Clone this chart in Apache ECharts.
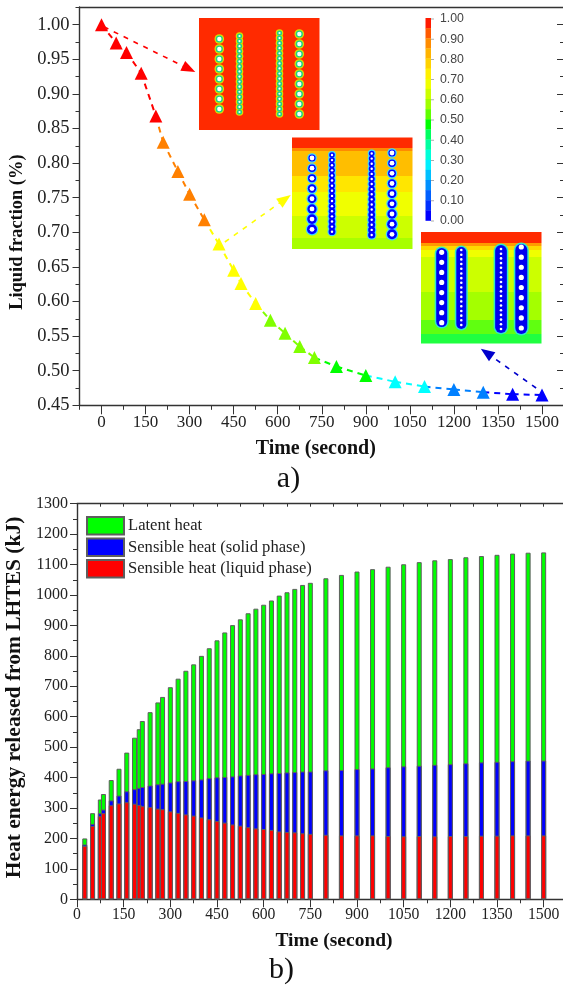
<!DOCTYPE html>
<html><head><meta charset="utf-8">
<style>html,body{margin:0;padding:0;background:#fff;overflow:hidden}#c{width:563px;height:985px}</style>
<script src="https://cdn.jsdelivr.net/npm/echarts@6/dist/echarts.min.js"></script>
</head><body><div id="c"></div>
<script>
// ---- panel a data
const fractionTime = [0,50,85,135,185,210,260,300,350,400,450,475,525,575,625,675,725,800,900,1000,1100,1200,1300,1400,1500];
const fractionValue = [1.0,0.9735,0.96,0.93,0.868,0.83,0.788,0.755,0.718,0.683,0.645,0.626,0.597,0.573,0.554,0.535,0.519,0.506,0.493,0.484,0.477,0.473,0.469,0.466,0.465];
const fractionColor = ['#ff0000','#ff0000','#ff0000','#ff0000','#ff0000','#ff8000','#ff8000','#ff8000','#ff8000','#ffff00','#ffff00','#ffff00','#ffff00','#80ff00','#80ff00','#80ff00','#80ff00','#00ff00','#00ff00','#00ffff','#00ffff','#0080ff','#0080ff','#0000ff','#0000ff'];
const timeMajor = [0,150,300,450,600,750,900,1050,1200,1350,1500];
const timeMinorA = [-75,75,225,375,525,675,825,975,1125,1275,1425,1575];
const fracMajor = [0.45,0.5,0.55,0.6,0.65,0.7,0.75,0.8,0.85,0.9,0.95,1.0];
const fracMinor = [0.475,0.525,0.575,0.625,0.675,0.725,0.775,0.825,0.875,0.925,0.975,1.025];
// ---- panel b data
const barTime = [25,50,75,85,110,135,160,185,200,210,235,260,275,300,325,350,375,400,425,450,475,500,525,550,575,600,625,650,675,700,725,750,800,850,900,950,1000,1050,1100,1150,1200,1250,1300,1350,1400,1450,1500];
const liquidHeat = [175,241,273,283,309,315,319,314,310,306,303,298,296,289,284,279,275,269,263,257,252,246,242,237,233,231,228,223,221,220,217,215,212,210,210,210,208,207,208,207,208,208,209,209,210,210,210];
const solidHeat = [5,7,10,12,16,26,36,48,56,63,71,80,84,95,104,110,116,125,135,144,150,158,165,172,178,181,186,192,196,198,203,205,212,215,218,220,226,230,231,235,236,239,241,243,244,246,246];
const latentHeat = [20,35,45,51,67,88,127,169,193,217,241,269,285,313,337,362,381,406,427,450,475,497,513,531,544,556,568,583,592,602,613,620,631,641,649,655,659,664,669,672,674,677,678,680,682,683,684];
const timeMinorB = [75,225,375,525,675,825,975,1125,1275,1425];
const heatMajor = [0,100,200,300,400,500,600,700,800,900,1000,1100,1200,1300];
const heatMinor = [50,150,250,350,450,550,650,750,850,950,1050,1150,1250];
const seriesNames = ['Latent heat','Sensible heat (solid phase)','Sensible heat (liquid phase)'];
// ---- colour scale of the insets
const scaleLabels = ['1.00','0.90','0.80','0.70','0.60','0.50','0.40','0.30','0.20','0.10','0.00'];
const scaleColors = ['#ff1a00','#ff5a00','#ff8c00','#ffb400','#ffd200','#fff000','#f0ff00','#ccff00','#a0ff00','#60ff00','#00ff00','#00ff60','#00ffa0','#00ffd8','#00f0ff','#00c0ff','#0090ff','#0060ff','#0030ff','#0000ff'];

const SERIF = 'Liberation Serif';
const dark = '#222';

function pairs(a,b){return a.map((v,i)=>[v,b[i]]);}

const lineSeries = [];
for(let i=0;i<fractionTime.length-1;i++){
  lineSeries.push({type:'line',xAxisIndex:0,yAxisIndex:0,symbol:'none',silent:true,z:3,
    data:[[fractionTime[i],fractionValue[i]],[fractionTime[i+1],fractionValue[i+1]]],
    lineStyle:{color:fractionColor[i+1],width:2,type:[6,5]}});
}
const arrows = [
  {from:[8,0.997],to:[298,0.936],c:'#ff0000'},
  {from:[420,0.686],to:[625,0.748],c:'#ffff00'},
  {from:[1480,0.475],to:[1311,0.526],c:'#0000cc'}
];
const arrowSeries = {type:'line',xAxisIndex:0,yAxisIndex:0,symbol:'none',data:[],silent:true,z:2,
  markLine:{silent:true,animation:false,symbol:['none','triangle'],symbolSize:[11,14],label:{show:false},
    data:arrows.map(a=>[{coord:a.from,lineStyle:{color:a.c,width:1.6,type:[5,6]},itemStyle:{color:a.c}},{coord:a.to}])}};
const markerSeries = {type:'scatter',xAxisIndex:0,yAxisIndex:0,symbol:'triangle',symbolSize:[13,13],z:4,
  data:fractionTime.map((t,i)=>({value:[t,fractionValue[i]],itemStyle:{color:fractionColor[i],opacity:1}}))};

// the three layers are drawn overlapped, each reaching its cumulative height
const solidTop = liquidHeat.map((v,i)=>v+solidHeat[i]);
const totalTop = solidTop.map((v,i)=>v+latentHeat[i]);
const barStyle = c=>({color:c,borderColor:'#5e5e5e',borderWidth:1});
const barCommon = {type:'bar',xAxisIndex:2,yAxisIndex:3,barWidth:5,barGap:'-100%'};
const barSeries = [
  {...barCommon,name:seriesNames[0],data:pairs(barTime,totalTop),itemStyle:barStyle('#00ff00'),z:2},
  {...barCommon,name:seriesNames[1],data:pairs(barTime,solidTop),itemStyle:barStyle('#0000ff'),z:3},
  {...barCommon,name:seriesNames[2],data:pairs(barTime,liquidHeat),itemStyle:barStyle('#ff0000'),z:4}
];

const axLine = {show:true,onZero:false,lineStyle:{color:'#333',width:1.4}};
const noLine = {show:false,onZero:false};
function xAx(grid,min,max,o){return Object.assign({type:'value',gridIndex:grid,min,max,splitLine:{show:false},axisLine:axLine},o);}
function yAx(grid,min,max,o){return Object.assign({type:'value',gridIndex:grid,min,max,splitLine:{show:false},axisLine:axLine},o);}
const tick=(vals,len,inside)=>({show:true,customValues:vals,length:len,inside:!!inside,lineStyle:{color:'#333',width:1}});
const lab=(vals,size,fmt,margin)=>({show:true,customValues:vals,fontFamily:SERIF,fontSize:size,color:dark,margin,formatter:fmt,showMinLabel:true,showMaxLabel:true,hideOverlap:false});
const off={show:false};
const boldName={fontFamily:SERIF,fontWeight:'bold',color:'#111'};

const option = {
  animation:false,
  backgroundColor:'#fff',
  grid:[
    {left:79.5,top:7,width:484.5,height:398.3,containLabel:false,outerBoundsMode:'none'},
    {left:77,top:503.7,width:490,height:395.6,containLabel:false,outerBoundsMode:'none'}
  ],
  legend:{orient:'vertical',left:86,top:516,padding:0,itemWidth:37,itemHeight:17.5,itemGap:2,selectedMode:false,
    data:seriesNames.map(n=>({name:n,icon:'rect'})),
    textStyle:{fontFamily:SERIF,fontSize:16.6,lineHeight:19,color:dark,padding:[0,0,0,-1]}},
  xAxis:[
    xAx(0,-75,1575,{position:'bottom',axisTick:tick(timeMajor,9),axisLabel:lab(timeMajor,17,v=>String(v),9),
      name:'Time (second)',nameLocation:'middle',nameGap:34,nameTextStyle:{...boldName,fontSize:20,padding:[0,12,0,0]}}),
    xAx(0,-75,1575,{position:'bottom',axisLine:noLine,axisTick:tick(timeMinorA,4.5),axisLabel:off}),
    xAx(1,0,1575,{position:'bottom',axisTick:tick(timeMajor,8),axisLabel:lab(timeMajor,15.7,v=>String(v),8),
      name:'Time (second)',nameLocation:'middle',nameGap:32,nameTextStyle:{...boldName,fontSize:19.5,padding:[0,0,0,24]}}),
    xAx(1,0,1575,{position:'bottom',axisLine:noLine,axisTick:tick(timeMinorB,4),axisLabel:off}),
    xAx(1,0,1575,{position:'top',axisTick:tick(timeMajor,3,true),axisLabel:off}),
    xAx(1,0,1575,{position:'top',axisLine:noLine,axisTick:tick(timeMinorB,3,true),axisLabel:off}),
    xAx(0,-75,1575,{position:'top',axisTick:off,axisLabel:off})
  ],
  yAxis:[
    yAx(0,0.45,1.0256,{position:'left',axisTick:tick(fracMajor,7),axisLabel:lab(fracMajor,18.5,v=>v.toFixed(2),10),
      name:'Liquid fraction (%)',nameLocation:'middle',nameGap:46,nameTextStyle:{...boldName,fontSize:18.4,padding:[0,52,0,0]}}),
    yAx(0,0.45,1.0256,{position:'left',axisLine:noLine,axisTick:tick(fracMinor,4),axisLabel:off}),
    yAx(0,0.45,1.0256,{position:'right',axisTick:tick(fracMajor,7,true),axisLabel:off}),
    yAx(1,0,1300,{position:'left',axisTick:tick(heatMajor,7),axisLabel:lab(heatMajor,16,v=>String(v),9),
      name:'Heat energy released from LHTES (kJ)',nameLocation:'middle',nameGap:46,nameTextStyle:{...boldName,fontSize:21.5,padding:[0,0,0,8]}}),
    yAx(1,0,1300,{position:'left',axisLine:noLine,axisTick:tick(heatMinor,4),axisLabel:off}),
    yAx(0,0.45,1.0256,{position:'right',axisLine:noLine,axisTick:tick(fracMinor,4,true),axisLabel:off})
  ],
  series:[arrowSeries,...lineSeries,markerSeries,...barSeries],
  graphic:{elements:[]}
};

// ---- decorative contour insets and colour scale
const g=[];
function bands(x,y,w,list){list.forEach(b=>g.push({type:'rect',shape:{x,y:b[0],width:w,height:b[1]-b[0]},style:{fill:b[2]},z:5}));}
function col(c){
  for(let i=0;i<c.n;i++){
    const y=c.y0+(c.y1-c.y0)*i/(c.n-1);
    const rr=c.r0+(c.r1-c.r0)*i/(c.n-1);
    if(c.halo) g.push({type:'circle',shape:{cx:c.x,cy:y,r:rr+1.2},style:{fill:c.halo},z:6});
    g.push({type:'circle',shape:{cx:c.x,cy:y,r:rr},style:{fill:c.ring},z:7});
    g.push({type:'circle',shape:{cx:c.x,cy:y,r:c.w},style:{fill:'#fff'},z:8});
  }
}
function capsule(x,y0,y1,w,fill,z){g.push({type:'rect',shape:{x:x-w/2,y:y0,width:w,height:y1-y0,r:w/2},style:{fill},z});}

bands(199,18,120.5,[[18,130,'#ff2a00']]);
[[219.3,39,109,8,3.6,3.6,2.2],[239.5,36,112,16,2.6,2.6,1.1],[279.5,33,114,17,2.6,2.6,1.1],[299.3,34,114,9,3.6,3.6,2.2]]
 .forEach(c=>col({x:c[0],y0:c[1],y1:c[2],n:c[3],r0:c[4],r1:c[5],w:c[6],ring:'#1fd08a',halo:'#d8e000'}));

bands(292,137.5,120.5,[[137.5,148,'#ff2a00'],[148,151,'#ff8a00'],[151,176,'#ffbe00'],[176,192,'#ffe600'],[192,216,'#f0ff00'],[216,238,'#ccff00'],[238,249,'#a8ff00']]);
[[312,158,229.3,8,3.6,5,2.4],[332,155,231.7,16,2.8,3.4,1.2],[371.7,153.5,235,17,2.8,3.6,1.2],[392,153,234.3,9,3.6,5,2.4]]
 .forEach(c=>col({x:c[0],y0:c[1],y1:c[2],n:c[3],r0:c[4],r1:c[5],w:c[6],ring:'#0000ff',halo:'#40d8ff'}));

bands(421,232,120.5,[[232,243,'#ff2a00'],[243,246,'#ff9a00'],[246,250,'#ffd800'],[250,257,'#f0ff00'],[257,292,'#ccff00'],[292,320,'#a4ff00'],[320,334,'#60ff10'],[334,343.5,'#20ff40']]);
[[441.7,248,327,11],[461.3,247,329,10],[501,245,333,11.7],[521.3,244,334,12]].forEach(c=>{
  capsule(c[0],c[1]-1.5,c[2]+1.5,c[3]+3,'#30e8c8',6);
  capsule(c[0],c[1],c[2],c[3],'#0000f0',7);
});
[[441.7,252.3,322.7,8,2.6],[461.3,250,325,17,1.3],[501,249,329,18,1.3],[521.3,247,328,9,2.6]]
 .forEach(c=>{for(let i=0;i<c[3];i++)g.push({type:'circle',shape:{cx:c[0],cy:c[1]+(c[2]-c[1])*i/(c[3]-1),r:c[4]},style:{fill:'#fff'},z:8});});

const barTop=18,barBot=220.5,bh=(barBot-barTop)/scaleColors.length;
scaleColors.forEach((c,i)=>g.push({type:'rect',shape:{x:425.5,y:barTop+i*bh,width:5.5,height:bh+0.3},style:{fill:c},z:5}));
scaleLabels.forEach((t,i)=>{
  const y=19+i*20.2;
  g.push({type:'text',x:440,y,style:{text:t,fill:'#444',font:'12.3px "Liberation Sans"',textVerticalAlign:'middle',textAlign:'left'},z:5});
  g.push({type:'rect',shape:{x:431,y:y-0.4,width:3,height:0.8},style:{fill:'#999'},z:5});
});
g.push({type:'text',x:288.5,y:479,style:{text:'a)',fill:'#111',font:'30px "Liberation Serif"',textAlign:'center',textVerticalAlign:'middle'},z:5});
g.push({type:'text',x:281.5,y:970,style:{text:'b)',fill:'#111',font:'30px "Liberation Serif"',textAlign:'center',textVerticalAlign:'middle'},z:5});
option.graphic.elements=g;

echarts.init(document.getElementById('c'),null,{renderer:'canvas'}).setOption(option);
</script></body></html>
